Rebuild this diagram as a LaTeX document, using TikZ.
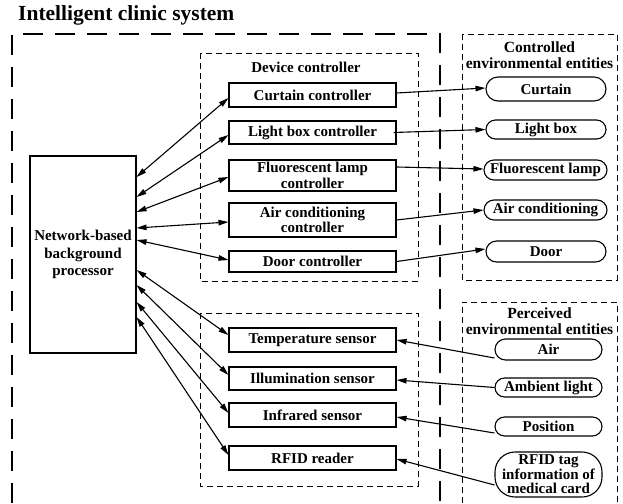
\documentclass[tikz,border=0pt]{standalone}
\usepackage{fontspec}
\setmainfont{Liberation Serif}
\usetikzlibrary{arrows.meta}
\begin{document}
\begin{tikzpicture}[x=1pt,y=-1pt,
  every node/.style={font=\fontsize{15}{16}\selectfont\bfseries},
  box/.style={draw,line width=1.1pt,minimum width=167pt,inner sep=0pt,align=center,font=\fontsize{15}{15.5}\selectfont\bfseries},
  ent/.style={draw,line width=1.1pt,minimum width=120pt,inner sep=0pt,align=center},
  grp/.style={draw,dashed,line width=0.9pt,dash pattern=on 6pt off 4pt},
  big/.style={draw,line width=2.6pt,dash pattern=on 20pt off 12pt},
  con/.style={line width=1.1pt,-{Triangle[length=10pt,width=5.5pt]}},
  dcon/.style={line width=1.1pt,{Triangle[length=10pt,width=5.5pt]}-{Triangle[length=10pt,width=5.5pt]}},
  ttl/.style={font=\fontsize{15}{15.5}\selectfont\bfseries,align=center,inner sep=0pt}]
\useasboundingbox (0,0) rectangle (623,503);
% frames
\node[anchor=base west,inner sep=0pt,font=\fontsize{21.5}{24}\selectfont\bfseries] (title) at (18,21) {Intelligent clinic system};
\path[big] (12,503) -- (12,34) -- (440,34) -- (440,503);
\path[grp] (200,53) rectangle (418,281);
\path[grp] (200,313) rectangle (418,486);
\path[grp] (462,34) rectangle (617,280);
\path[grp] (462,503) -- (462,302) -- (617,302) -- (617,503);
\node[ttl] (tdev) at (306,67) {Device controller};
\node[ttl,font=\fontsize{15.5}{15.5}\selectfont\bfseries] (tctl) at (539.5,55) {Controlled\\environmental entities};
\node[ttl,font=\fontsize{15.5}{15.5}\selectfont\bfseries] (tper) at (539.5,321) {Perceived\\environmental entities};
% processor
\node[draw,line width=1.1pt,minimum width=106pt,minimum height=197pt,align=center,inner sep=0pt,font=\fontsize{15}{17.5}\selectfont\bfseries] (net) at (83,254.5) {Network-based\\background\\processor};
% controllers
\node[box,minimum height=24pt] (cc) at (312.5,95) {Curtain controller};
\node[box,minimum height=23pt] (lc) at (312.5,132.5) {Light box controller};
\node[box,minimum height=31pt] (fc) at (312.5,175.5) {Fluorescent lamp\\controller};
\node[box,minimum height=34pt] (ac) at (312.5,220) {Air conditioning\\controller};
\node[box,minimum height=21pt] (dc) at (312.5,261.5) {Door controller};
% sensors
\node[box,minimum height=24pt] (ts) at (312.5,340) {Temperature sensor};
\node[box,minimum height=23pt] (is) at (312.5,378.5) {Illumination sensor};
\node[box,minimum height=24pt] (rs) at (312.5,415) {Infrared sensor};
\node[box,minimum height=24pt] (rf) at (312.5,458) {RFID reader};
% controlled entities
\node[ent,minimum height=24pt,rounded corners=12pt] (ec) at (546,89) {Curtain};
\node[ent,minimum height=19pt,rounded corners=9.5pt] (el) at (546,129.5) {Light box};
\node[ent,minimum height=20pt,minimum width=123pt,rounded corners=10pt] (ef) at (545.5,170) {Fluorescent lamp};
\node[ent,minimum height=20pt,minimum width=123pt,rounded corners=10pt] (ea) at (545.5,210) {Air conditioning};
\node[ent,minimum height=21pt,rounded corners=10.5pt] (ed) at (546,251.5) {Door};
% perceived entities
\node[ent,minimum width=107pt,minimum height=21pt,rounded corners=10.5pt] (pa) at (548.5,349.5) {Air};
\node[ent,minimum width=107pt,minimum height=19pt,rounded corners=9.5pt] (pl) at (548.5,387.5) {Ambient light};
\node[ent,minimum width=107pt,minimum height=19pt,rounded corners=9.5pt] (pp) at (548.5,426.5) {Position};
\node[ent,minimum width=107pt,minimum height=45pt,rounded corners=20pt,font=\fontsize{15}{14.5}\selectfont\bfseries] (pr) at (548.5,474.5) {RFID tag\\information of\\medical card};
% network <-> controllers
\draw[dcon] ([yshift=77.5pt]net.east) -- ([yshift=-3pt]cc.west);
\draw[dcon] ([yshift=57.5pt]net.east) -- ([yshift=-2.5pt]lc.west);
\draw[dcon] ([yshift=42.5pt]net.east) -- ([yshift=-1.5pt]fc.west);
\draw[dcon] ([yshift=26.5pt]net.east) -- ([yshift=-2pt]ac.west);
\draw[dcon] ([yshift=14.5pt]net.east) -- ([yshift=1.5pt]dc.west);
% network <-> sensors
\draw[dcon] ([yshift=-15.5pt]net.east) -- ([yshift=5pt]ts.west);
\draw[dcon] ([yshift=-30.5pt]net.east) -- ([yshift=3.5pt]is.west);
\draw[dcon] ([yshift=-47.5pt]net.east) -- ([yshift=2pt]rs.west);
\draw[dcon] ([yshift=-62.5pt]net.east) -- ([yshift=3pt]rf.west);
% controllers -> entities
\draw[con] ([yshift=2pt]cc.east) -- ([yshift=1pt]ec.west);
\draw[con] ([xshift=-3pt]lc.east) -- (el.west);
\draw[con] ([yshift=8.5pt]fc.east) -- ([yshift=1pt]ef.west);
\draw[con] (ac.east) -- (ea.west);
\draw[con] (dc.east) -- ([yshift=2.5pt]ed.west);
% perceived -> sensors
\draw[con] ([yshift=-8.5pt]pa.west) -- (ts.east);
\draw[con] (pl.west) -- ([yshift=-1.5pt]is.east);
\draw[con] ([yshift=-6.5pt]pp.west) -- ([yshift=-2pt]rs.east);
\draw[con] ([yshift=-10.5pt]pr.west) -- ([yshift=-1pt]rf.east);
\end{tikzpicture}
\end{document}
